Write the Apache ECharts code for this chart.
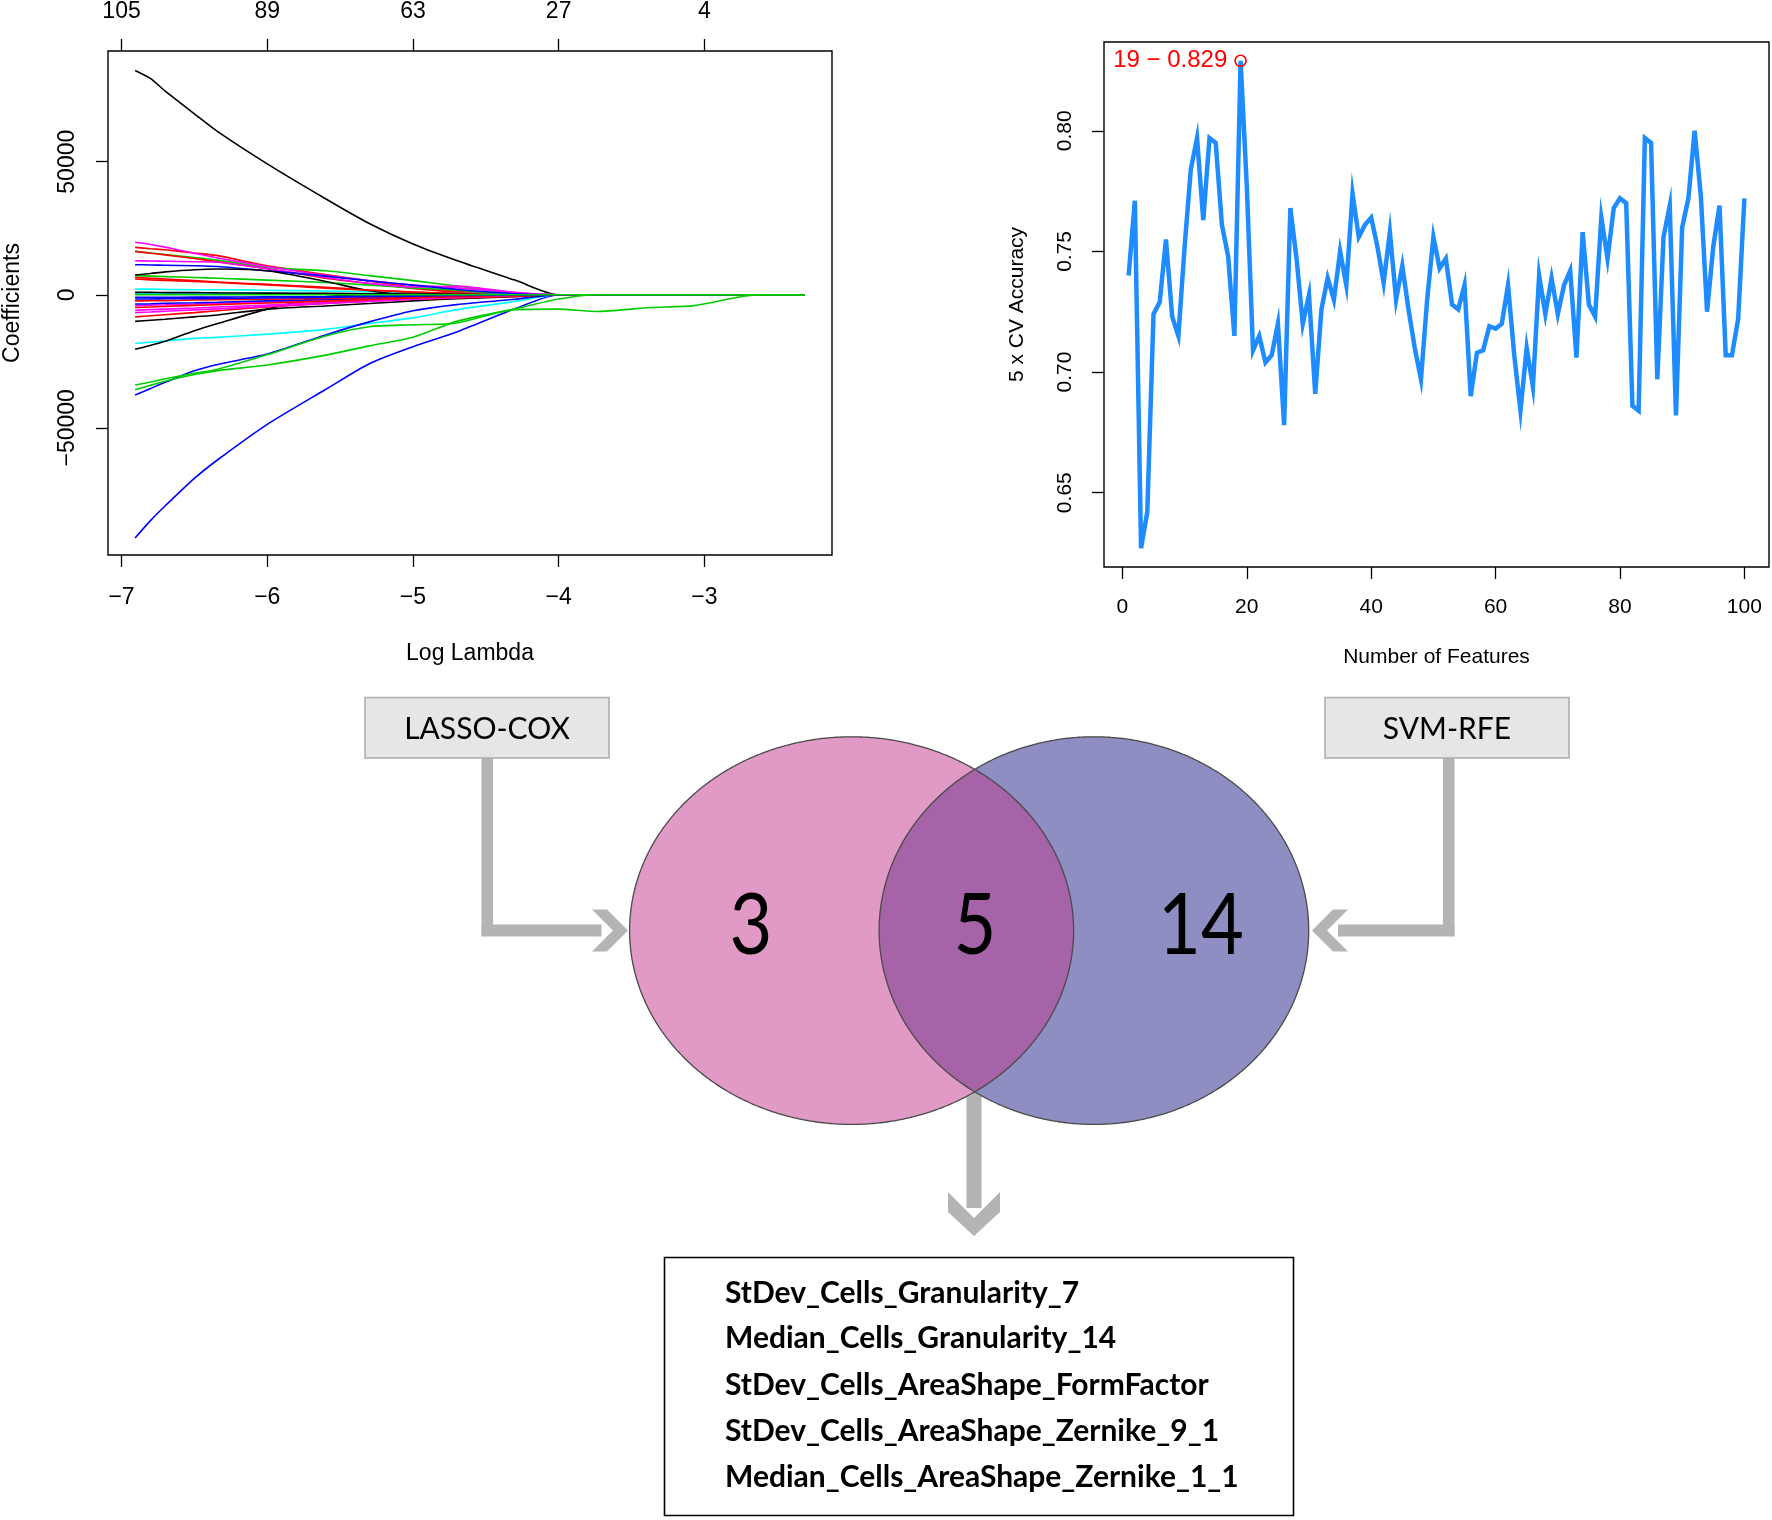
<!DOCTYPE html>
<html>
<head>
<meta charset="utf-8">
<script src="https://cdn.jsdelivr.net/npm/echarts/dist/echarts.min.js"></script>
<style>
html,body{margin:0;padding:0;background:#fff;}
#chart{width:1772px;height:1520px;}
</style>
</head>
<body>
<div id="chart"></div>
<script>
// ---------------- LASSO-COX coefficient paths ----------------
const LOG_LAMBDA = [-6.907, -6.8, -6.7, -6.5, -6.34, -6.0, -5.6, -5.3, -5.0, -4.7, -4.3, -4.0, -3.74, -3.37, -3.07, -2.63, -2.31];
const LOG_LAMBDA_TICKS = [-7, -6, -5, -4, -3];
const DF_LABELS = ['105', '89', '63', '27', '4'];
const COEF_TICKS = [-50000, 0, 50000];

const black1  = [84300, 81200, 76500, 68000, 61300, 49200, 36100, 26800, 19100, 12900, 5500, 0, 0, 0, 0, 0, 0];
const blue1   = [-91400, -84800, -79300, -69000, -62000, -48700, -35600, -25900, -19500, -14000, -5300, 0, 0, 0, 0, 0, 0];
const blue2   = [-37700, -35200, -32900, -28600, -26200, -22300, -15100, -10200, -6000, -3700, -1700, 0, 0, 0, 0, 0, 0];
const cyan1   = [-18300, -17800, -17300, -16400, -16000, -14800, -13000, -10800, -8700, -5600, -2500, 0, 0, 0, 0, 0, 0];
const black2  = [-20500, -19000, -17500, -13500, -10800, -5400, -800, 0, 0, 0, 0, 0, 0, 0, 0, 0, 0];
const black3  = [-10000, -9600, -9200, -8300, -7600, -5400, -4200, -3300, -2300, -1500, -700, 0, 0, 0, 0, 0, 0];
const black4  = [7400, 8000, 8600, 9400, 9700, 9000, 5000, 1500, 0, 0, 0, 0, 0, 0, 0, 0, 0];
const black5  = [900, 900, 800, 800, 700, 600, 500, 400, 300, 200, 0, 0, 0, 0, 0, 0, 0];
const red1    = [17800, 17300, 16900, 15700, 14700, 10900, 7600, 5200, 2800, 1400, 0, 0, 0, 0, 0, 0, 0];
const red2    = [16300, 15600, 15000, 13600, 12400, 9800, 6200, 4200, 2400, 1000, 0, 0, 0, 0, 0, 0, 0];
const red3    = [6500, 6200, 5900, 5300, 4800, 3900, 2800, 1800, 1000, 500, 0, 0, 0, 0, 0, 0, 0];
const red4    = [5900, 5600, 5400, 5000, 4600, 3700, 2500, 1700, 1000, 400, 0, 0, 0, 0, 0, 0, 0];
const red5    = [-8300, -7900, -7500, -6700, -6000, -4600, -3300, -2400, -1700, -1200, -600, 0, 0, 0, 0, 0, 0];
const red6    = [-2300, -2200, -2200, -2000, -1900, -1700, -1400, -1100, -800, -400, 0, 0, 0, 0, 0, 0, 0];
const red7    = [-4800, -4600, -4400, -4000, -3700, -3100, -2400, -1800, -1200, -700, -200, 0, 0, 0, 0, 0, 0];
const magenta1 = [19700, 18900, 17900, 15600, 13800, 10600, 7200, 5300, 3600, 2600, 900, 0, 0, 0, 0, 0, 0];
const magenta2 = [12800, 12700, 12600, 12400, 12200, 9800, 6500, 4300, 2900, 3300, 800, 0, 0, 0, 0, 0, 0];
const magenta3 = [-4100, -3900, -3800, -3500, -3200, -2700, -2000, -1500, -1000, -600, -200, 0, 0, 0, 0, 0, 0];
const magenta4 = [-5800, -5600, -5400, -5000, -4600, -3900, -2900, -2200, -1500, -900, -300, 0, 0, 0, 0, 0, 0];
const magenta5 = [-6700, -6500, -6200, -5700, -5300, -4400, -3300, -2500, -1700, -1000, -300, 0, 0, 0, 0, 0, 0];
const green1  = [16300, 15700, 15100, 14000, 13000, 10300, 9000, 7200, 5300, 3300, 500, 0, 0, 0, 0, 0, 0];
const green2  = [7200, 7000, 6800, 6500, 6200, 5500, 4600, 3600, 2600, 1700, 300, 0, 0, 0, 0, 0, 0];
const blue3   = [11300, 11200, 11100, 10900, 10600, 9000, 7000, 5200, 3600, 2000, 400, 0, 0, 0, 0, 0, 0];
const blue4   = [-1000, -1000, -1000, -900, -900, -800, -700, -500, -400, -200, -100, 0, 0, 0, 0, 0, 0];
const blue5   = [-3500, -3400, -3200, -3000, -2800, -2300, -1800, -1300, -900, -500, -200, 0, 0, 0, 0, 0, 0];
const blue6   = [-1600, -1600, -1500, -1500, -1400, -1200, -1000, -700, -500, -300, -100, 0, 0, 0, 0, 0, 0];
const cyan2   = [2100, 2100, 2000, 1900, 1900, 1700, 1400, 1100, 800, 500, 200, 0, 0, 0, 0, 0, 0];
const cyan3   = [600, 600, 600, 500, 500, 500, 400, 300, 200, 100, 0, 0, 0, 0, 0, 0, 0];
const green3  = [0, 0, 0, 0, 0, 0, 0, 0, 0, 0, 0, 0, 0, 0, 0, 0, 0];
const greenA  = [-33900, -32800, -31600, -29500, -28000, -22500, -15500, -12000, -11300, -10600, -5600, -5400, -6300, -4800, -4100, 0, 0];
const greenB  = [-35700, -34000, -32500, -30000, -28500, -26400, -22700, -19200, -16000, -10000, -5300, -1600, 0, 0, 0, 0, 0];

const PATHS = [
  ['black', black1], ['red', red1], ['green', green1], ['blue', blue1], ['cyan', cyan1], ['magenta', magenta1],
  ['black', black2], ['red', red2], ['green', green2], ['blue', blue2], ['cyan', cyan2], ['magenta', magenta2],
  ['black', black3], ['red', red3], ['blue', blue3], ['cyan', cyan3], ['magenta', magenta3],
  ['black', black4], ['red', red4], ['blue', blue4], ['magenta', magenta4],
  ['black', black5], ['red', red5], ['blue', blue5], ['red', red6], ['magenta', magenta5],
  ['red', red7], ['blue', blue6], ['green', green3],
  ['green', greenA], ['green', greenB]
];
const R_COLORS = {black:'#000000', red:'#FF0000', green:'#00CD00', blue:'#0000FF', cyan:'#00FFFF', magenta:'#FF00FF'};

// ---------------- SVM-RFE accuracy ----------------
const CV_ACCURACY = [
  0.740, 0.771, 0.627, 0.642, 0.724, 0.729, 0.755, 0.723, 0.715, 0.752,
  0.784, 0.797, 0.763, 0.797, 0.795, 0.761, 0.748, 0.715, 0.829, 0.777,
  0.709, 0.715, 0.704, 0.707, 0.720, 0.678, 0.768, 0.747, 0.720, 0.732,
  0.691, 0.726, 0.739, 0.730, 0.750, 0.736, 0.774, 0.756, 0.761, 0.764,
  0.752, 0.737, 0.758, 0.730, 0.744, 0.726, 0.710, 0.697, 0.730, 0.756,
  0.743, 0.747, 0.728, 0.726, 0.736, 0.690, 0.708, 0.709, 0.719, 0.718,
  0.720, 0.736, 0.707, 0.684, 0.710, 0.694, 0.740, 0.724, 0.739, 0.724,
  0.736, 0.742, 0.706, 0.758, 0.728, 0.723, 0.764, 0.747, 0.768, 0.772,
  0.770, 0.686, 0.684, 0.797, 0.795, 0.697, 0.756, 0.769, 0.682, 0.760,
  0.772, 0.800, 0.773, 0.725, 0.752, 0.769, 0.707, 0.707, 0.722, 0.772
];
const FEATURE_TICKS = [0, 20, 40, 60, 80, 100];
const ACC_TICKS = [0.65, 0.70, 0.75, 0.80];
const BEST_N = 19;
const BEST_ACC = 0.829;

// ---------------- Venn / labels ----------------
const VENN_COUNTS = ['3', '5', '14'];
const METHOD_NAMES = ['LASSO-COX', 'SVM-RFE'];
const SELECTED_FEATURES = [
  'StDev_Cells_Granularity_7',
  'Median_Cells_Granularity_14',
  'StDev_Cells_AreaShape_FormFactor',
  'StDev_Cells_AreaShape_Zernike_9_1',
  'Median_Cells_AreaShape_Zernike_1_1'
];

const MINUS = '\u2212';
const fmtNum = v => (v < 0 ? MINUS + Math.abs(v) : String(v));
const AXIS_FONT = 'Liberation Sans';

const lassoSeries = PATHS.map(([c, vals]) => ({
  type: 'line', xAxisIndex: 0, yAxisIndex: 0,
  data: LOG_LAMBDA.map((x, i) => [x, vals[i]]),
  showSymbol: false, silent: true, smooth: 0.25,
  lineStyle: {color: R_COLORS[c], width: 1.6},
  itemStyle: {color: R_COLORS[c]}
}));

// ---------- geometry helpers for the Venn decoration ----------
function ellipsePts(e, t0, t1, n) {
  const pts = [];
  for (let i = 0; i <= n; i++) {
    const t = t0 + (t1 - t0) * i / n;
    pts.push([e.cx + e.rx * Math.cos(t), e.cy + e.ry * Math.sin(t)]);
  }
  return pts;
}
function inside(p, e) {
  const dx = (p[0] - e.cx) / e.rx, dy = (p[1] - e.cy) / e.ry;
  return dx * dx + dy * dy <= 1.0000001;
}
const EL = {cx: 851.6, cy: 930.6, rx: 222, ry: 193.8};
const ER = {cx: 1093.9, cy: 930.6, rx: 214.8, ry: 193.8};
const leftPts = ellipsePts(EL, 0, Math.PI * 2, 720);
const rightPts = ellipsePts(ER, 0, Math.PI * 2, 720);
const lensA = ellipsePts(EL, -Math.PI, Math.PI, 1440).filter(p => inside(p, ER));
const lensB = ellipsePts(ER, 0, Math.PI * 2, 1440).filter(p => inside(p, EL));
const lensPts = lensA.concat(lensB);

const GRAY = '#b4b4b4';
function chevronRight(tx, ty, depth, h, cut) {
  const bx = tx - depth;
  return [[bx, ty - h], [bx + cut, ty - h], [tx, ty], [bx + cut, ty + h], [bx, ty + h], [bx + h, ty]];
}
function chevronLeft(tx, ty, depth, h, cut) {
  const bx = tx + depth;
  return [[bx, ty - h], [bx - cut, ty - h], [tx, ty], [bx - cut, ty + h], [bx, ty + h], [bx - h, ty]];
}
function chevronDown(cx, ty, depth, w, cut) {
  const by = ty - depth;
  return [[cx - w, by], [cx - w, by + cut], [cx, ty], [cx + w, by + cut], [cx + w, by], [cx, by + w]];
}

const graphics = [];
// arrows
graphics.push({type: 'rect', shape: {x: 481.5, y: 758, width: 11.5, height: 178}, style: {fill: GRAY}, silent: true});
graphics.push({type: 'rect', shape: {x: 481.5, y: 924.5, width: 120, height: 12}, style: {fill: GRAY}, silent: true});
graphics.push({type: 'polygon', shape: {points: chevronRight(628, 930.5, 36, 21, 15)}, style: {fill: GRAY}, silent: true});
graphics.push({type: 'rect', shape: {x: 1443, y: 758, width: 11.5, height: 178}, style: {fill: GRAY}, silent: true});
graphics.push({type: 'rect', shape: {x: 1338, y: 924.5, width: 116.5, height: 12}, style: {fill: GRAY}, silent: true});
graphics.push({type: 'polygon', shape: {points: chevronLeft(1312, 930.5, 36, 21, 15)}, style: {fill: GRAY}, silent: true});
graphics.push({type: 'rect', shape: {x: 966.5, y: 1088, width: 15, height: 120}, style: {fill: GRAY}, silent: true});
graphics.push({type: 'polygon', shape: {points: chevronDown(974, 1236, 44, 26, 20)}, style: {fill: GRAY}, silent: true});
// venn fills
graphics.push({type: 'polygon', shape: {points: leftPts}, style: {fill: '#E199C6', stroke: null}, silent: true, z: 10});
graphics.push({type: 'polygon', shape: {points: rightPts}, style: {fill: '#8F8EC3', stroke: null}, silent: true, z: 10});
graphics.push({type: 'polygon', shape: {points: lensPts}, style: {fill: '#A763A8', stroke: null}, silent: true, z: 11});
graphics.push({type: 'polygon', shape: {points: leftPts}, style: {fill: null, stroke: '#4a4a4a', lineWidth: 1.3}, silent: true, z: 12});
graphics.push({type: 'polygon', shape: {points: rightPts}, style: {fill: null, stroke: '#4a4a4a', lineWidth: 1.3}, silent: true, z: 12});
// venn counts
[[751, VENN_COUNTS[0]], [975, VENN_COUNTS[1]], [1201, VENN_COUNTS[2]]].forEach(([x, t]) => {
  graphics.push({type: 'text', z: 13, silent: true, x: x, y: 926, scaleX: 0.86,
    style: {text: t, x: 0, y: 0, font: '86px Lato', fill: '#000', align: 'center', verticalAlign: 'middle', textAlign: 'center', textVerticalAlign: 'middle'}});
});
// method boxes
[[365, METHOD_NAMES[0]], [1325, METHOD_NAMES[1]]].forEach(([x, t]) => {
  graphics.push({type: 'rect', z: 5, silent: true, shape: {x: x, y: 697.5, width: 244, height: 60.5},
    style: {fill: '#E6E6E6', stroke: '#ABABAB', lineWidth: 1.5}});
  graphics.push({type: 'text', z: 6, silent: true,
    style: {text: t, x: x + 122, y: 729, font: '30px Lato', fill: '#000', align: 'center', verticalAlign: 'middle', textAlign: 'center', textVerticalAlign: 'middle'}});
});
// result box
graphics.push({type: 'rect', z: 5, silent: true, shape: {x: 664.5, y: 1257.5, width: 629, height: 258},
  style: {fill: '#fff', stroke: '#000', lineWidth: 1.6}});
const LINE_Y = [1293, 1338, 1385, 1431, 1477];
SELECTED_FEATURES.forEach((t, i) => {
  graphics.push({type: 'text', z: 6, silent: true,
    style: {text: t, x: 725, y: LINE_Y[i], font: 'bold 30px Lato', fill: '#000', align: 'left', verticalAlign: 'middle', textAlign: 'left', textVerticalAlign: 'middle'}});
});

const lassoLabel = {color: '#000', fontFamily: AXIS_FONT, fontSize: 23};
const svmLabel = {color: '#000', fontFamily: AXIS_FONT, fontSize: 21};
const tickStyle = {color: '#000', width: 1.3};

const option = {
  backgroundColor: '#fff',
  animation: false,
  grid: [
    {left: 107, top: 51, width: 725, height: 504, show: true, borderColor: '#000', borderWidth: 1.4, backgroundColor: 'transparent'},
    {left: 1104, top: 42, width: 665, height: 525, show: true, borderColor: '#000', borderWidth: 1.4, backgroundColor: 'transparent'}
  ],
  xAxis: [
    {type: 'value', gridIndex: 0, position: 'bottom', min: -7.093, max: -2.124,
      name: 'Log Lambda', nameLocation: 'middle', nameGap: 87, nameTextStyle: lassoLabel,
      axisLine: {show: false, onZero: false},
      axisTick: {show: true, inside: false, length: 12, lineStyle: tickStyle, customValues: LOG_LAMBDA_TICKS},
      axisLabel: Object.assign({show: true, margin: 31, customValues: LOG_LAMBDA_TICKS, formatter: v => fmtNum(v)}, lassoLabel),
      splitLine: {show: false}},
    {type: 'value', gridIndex: 0, position: 'top', min: -7.093, max: -2.124,
      axisLine: {show: false, onZero: false},
      axisTick: {show: true, inside: false, length: 12, lineStyle: tickStyle, customValues: LOG_LAMBDA_TICKS},
      axisLabel: Object.assign({show: true, margin: 28, customValues: LOG_LAMBDA_TICKS,
        formatter: v => DF_LABELS[LOG_LAMBDA_TICKS.indexOf(Math.round(v))] || ''}, lassoLabel),
      splitLine: {show: false}},
    {type: 'value', gridIndex: 1, position: 'bottom', min: -2.96, max: 103.96,
      name: 'Number of Features', nameLocation: 'middle', nameGap: 80, nameTextStyle: svmLabel,
      axisLine: {show: false, onZero: false},
      axisTick: {show: true, inside: false, length: 12, lineStyle: tickStyle, customValues: FEATURE_TICKS},
      axisLabel: Object.assign({show: true, margin: 30, customValues: FEATURE_TICKS}, svmLabel),
      splitLine: {show: false}}
  ],
  yAxis: [
    {type: 'value', gridIndex: 0, min: -97800, max: 91600,
      name: 'Coefficients', nameLocation: 'middle', nameGap: 84, nameRotate: 90, nameTextStyle: lassoLabel,
      axisLine: {show: false, onZero: false},
      axisTick: {show: true, inside: false, length: 12, lineStyle: tickStyle, customValues: COEF_TICKS},
      axisLabel: Object.assign({show: true, margin: 29, rotate: 90, customValues: COEF_TICKS, formatter: v => fmtNum(v)}, lassoLabel),
      splitLine: {show: false}},
    {type: 'value', gridIndex: 1, min: 0.6192, max: 0.8368,
      name: '5 x CV Accuracy', nameLocation: 'middle', nameGap: 76, nameRotate: 90, nameTextStyle: svmLabel,
      axisLine: {show: false, onZero: false},
      axisTick: {show: true, inside: false, length: 12, lineStyle: tickStyle, customValues: ACC_TICKS},
      axisLabel: Object.assign({show: true, margin: 28, rotate: 90, customValues: ACC_TICKS, formatter: v => v.toFixed(2)}, svmLabel),
      splitLine: {show: false}}
  ],
  series: lassoSeries.concat([
    {type: 'line', xAxisIndex: 2, yAxisIndex: 1,
      data: CV_ACCURACY.map((v, i) => [i + 1, v]),
      showSymbol: false, silent: true,
      lineStyle: {color: '#1E8CFF', width: 4.5, join: 'miter'}, itemStyle: {color: '#1E8CFF'}},
    {type: 'scatter', xAxisIndex: 2, yAxisIndex: 1, z: 5, silent: true,
      data: [[BEST_N, BEST_ACC]],
      symbol: 'circle', symbolSize: 11,
      itemStyle: {color: 'rgba(0,0,0,0)', borderColor: '#FF0000', borderWidth: 1.6, opacity: 1},
      label: {show: true, position: 'left', distance: 7, formatter: BEST_N + ' ' + MINUS + ' ' + BEST_ACC.toFixed(3),
        color: '#FF0000', fontFamily: AXIS_FONT, fontSize: 24}}
  ]),
  graphic: graphics
};

const chart = echarts.init(document.getElementById('chart'), null, {renderer: 'canvas'});
chart.setOption(option);
</script>
</body>
</html>
